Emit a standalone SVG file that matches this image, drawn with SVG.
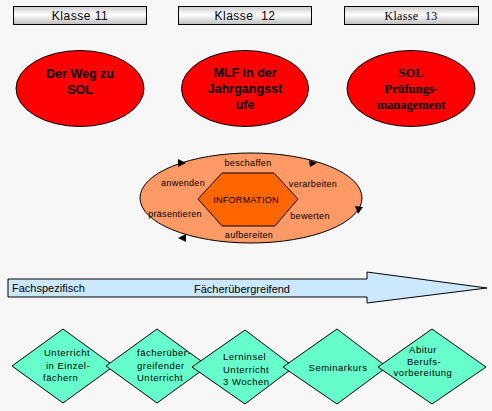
<svg xmlns="http://www.w3.org/2000/svg" width="492" height="411" viewBox="0 0 492 411">
<defs>
<linearGradient id="kg" x1="0" y1="0" x2="0" y2="1">
<stop offset="0" stop-color="#c8c8c8"/>
<stop offset="0.45" stop-color="#ffffff"/>
<stop offset="1" stop-color="#bcbcbc"/>
</linearGradient>
<style>
.k{fill:url(#kg);stroke:#000;stroke-width:1}
.kt{font-family:"Liberation Sans",Arial,sans-serif;font-size:12px;text-anchor:middle;fill:#000;letter-spacing:0.5px;white-space:pre}
.kts{font-family:"Liberation Serif","Times New Roman",serif;font-size:12px;text-anchor:middle;fill:#000;letter-spacing:0.3px;white-space:pre}
.red{fill:#ff0000;stroke:#000;stroke-width:1}
.rt{font-family:"Liberation Sans",Arial,sans-serif;font-size:12.5px;font-weight:bold;text-anchor:middle;fill:#000}
.rts{font-family:"Liberation Serif","Times New Roman",serif;font-size:12.5px;font-weight:bold;text-anchor:middle;fill:#000}
.st{font-family:"Liberation Sans",Arial,sans-serif;font-size:9px;text-anchor:middle;fill:#000;letter-spacing:0.3px}
.dm{fill:#66ffcc;stroke:#000;stroke-width:1}
.dt{font-family:"Liberation Sans",Arial,sans-serif;font-size:9.5px;fill:#000;letter-spacing:0.5px}
.at{font-family:"Liberation Sans",Arial,sans-serif;font-size:11px;fill:#000}
.ah{fill:#000}
</style>
</defs>
<rect width="492" height="411" fill="#f7f7f7"/>

<g id="klasse11"><rect class="k" x="13.5" y="6.5" width="133" height="18"/><text class="kt" x="80" y="20">Klasse 11</text></g>
<g id="klasse12"><rect class="k" x="178.5" y="6.5" width="133" height="18"/><text class="kt" x="245" y="20">Klasse  12</text></g>
<g id="klasse13"><rect class="k" x="344.5" y="6.5" width="134" height="18"/><text class="kts" x="411" y="20">Klasse  13</text></g>

<g id="weg"><ellipse class="red" cx="80" cy="88.5" rx="64" ry="38"/><text class="rt" x="80" y="78">Der Weg zu</text><text class="rt" x="80" y="94">SOL</text></g>
<g id="mlf"><ellipse class="red" cx="245" cy="88.5" rx="63.5" ry="38"/><text class="rt" x="245" y="77">MLF in der</text><text class="rt" x="245" y="93">Jahrgangsst</text><text class="rt" x="245" y="109">ufe</text></g>
<g id="pruefung"><ellipse class="red" cx="411" cy="88.5" rx="64" ry="38"/><text class="rts" x="411" y="77">SOL</text><text class="rts" x="411" y="93">Prüfungs-</text><text class="rts" x="411" y="109">management</text></g>

<g id="information">
<ellipse cx="251" cy="198" rx="111" ry="45" fill="#ff9966" stroke="#000" stroke-width="1"/>
<polygon points="198,199 222,173 274,173 298,199 275,226 222,226" fill="#ff6600" stroke="#000" stroke-width="1"/>
<text class="st" x="246" y="203">INFORMATION</text>
<text class="st" x="248" y="166">beschaffen</text>
<text class="st" x="183" y="186">anwenden</text>
<text class="st" x="313" y="187">verarbeiten</text>
<text class="st" x="175" y="217">präsentieren</text>
<text class="st" x="310" y="219">bewerten</text>
<text class="st" x="249" y="238">aufbereiten</text>
</g>

<g id="connectors">
<polygon class="ah" points="178,159 186,163 178,167"/>
<polygon class="ah" points="309,160 317,163 310,167"/>
<polygon class="ah" points="355,206 363,207 358,214"/>
<polygon class="ah" points="186,234 178,238 186,242"/>
</g>

<g id="arrow">
<polygon points="8,279 367,279 367,272 487,288 367,303 367,297 8,297" fill="#cce8ff" stroke="#000" stroke-width="1"/>
<text class="at" x="12" y="292">Fachspezifisch</text>
<text class="at" x="242" y="293" text-anchor="middle">Fächerübergreifend</text>
</g>

<g id="unterricht"><polygon class="dm" points="12,366 63,329 114,366 63,403"/><text class="dt" x="44" y="356">Unterricht</text><text class="dt" x="46" y="369">in Einzel-</text><text class="dt" x="43" y="381">fächern</text></g>
<g id="faecheruebergreifend"><polygon class="dm" points="106,366 157,329 208,366 157,403"/><text class="dt" x="137" y="356">fächerüber-</text><text class="dt" x="137" y="369">greifender</text><text class="dt" x="137" y="381">Unterricht</text></g>
<g id="lerninsel"><polygon class="dm" points="192,367 245,330 294,367 245,404"/><text class="dt" x="223" y="360">Lerninsel</text><text class="dt" x="223" y="373">Unterricht</text><text class="dt" x="223" y="385">3 Wochen</text></g>
<g id="seminarkurs"><polygon class="dm" points="283,367 337,329 387,367 337,404"/><text class="dt" x="338" y="371" text-anchor="middle">Seminarkurs</text></g>
<g id="abitur"><polygon class="dm" points="378,367 432,329 486,367 432,404"/><text class="dt" x="423" y="353" text-anchor="middle">Abitur</text><text class="dt" x="424" y="365" text-anchor="middle">Berufs-</text><text class="dt" x="423" y="376" text-anchor="middle">vorbereitung</text></g>
</svg>
